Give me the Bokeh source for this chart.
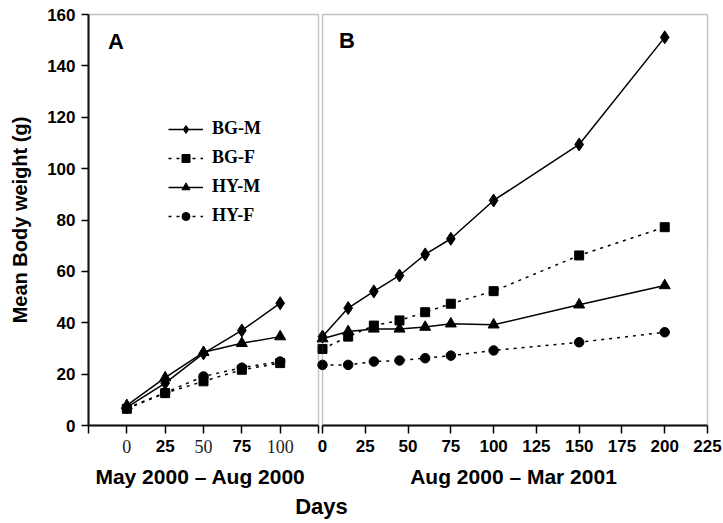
import math
from bokeh.plotting import figure
from bokeh.models import (Range1d, FixedTicker, Label, Legend, LegendItem,
                          LinearAxis, BoxAnnotation)
from bokeh.embed import file_html
from bokeh.resources import INLINE

# ---------------- data ----------------
days_a = [0, 25, 50, 75, 100]
bgm_a = [7.1, 16.5, 28.1, 37.0, 47.6]
bgf_a = [6.5, 12.6, 17.2, 21.7, 24.3]
hym_a = [7.8, 18.6, 28.5, 32.0, 34.6]
hyf_a = [6.8, 12.8, 19.1, 22.5, 24.9]

days_b = [0, 15, 30, 45, 60, 75, 100, 150, 200]
bgm_b = [34.6, 45.7, 52.2, 58.4, 66.6, 72.7, 87.6, 109.4, 151.1]
bgf_b = [29.8, 34.6, 38.9, 40.9, 44.1, 47.4, 52.3, 66.2, 77.2]
hym_b = [33.8, 36.6, 37.6, 37.6, 38.3, 39.6, 39.2, 47.0, 54.5]
hyf_b = [23.6, 23.6, 24.9, 25.3, 26.2, 27.2, 29.2, 32.4, 36.3]

series_names = ["BG-M", "BG-F", "HY-M", "HY-F"]
y_ticks = [0, 20, 40, 60, 80, 100, 120, 140, 160]
a_ticks = [-25, 0, 25, 50, 75, 100, 125]
a_bold_labels = [25, 75]
a_serif_labels = [0, 50, 100]
b_ticks = [0, 25, 50, 75, 100, 125, 150, 175, 200, 225]
xlabel_a = "May 2000 \u2013 Aug 2000"
xlabel_b = "Aug 2000 \u2013 Mar 2001"
ylabel = "Mean Body weight (g)"
xlabel_all = "Days"

# ---------------- layout (pixels) ----------------
W, H = 722, 523
FL, FR, FT, FB = 88, 707, 14, 425          # data-area edges on the canvas
A_END, B_START = 318, 322                  # panel borders
a_lo, a_hi = -25, 125
b_lo, b_hi = 0, 225
y_lo, y_hi = 0, 160
a_scale = (A_END - FL) / (a_hi - a_lo)
b_scale = (FR - B_START) / (b_hi - b_lo)
y_scale = (FB - FT) / (y_hi - y_lo)


def ax_px(px):
    return a_lo + (px - FL) / a_scale


def bx_px(px):
    return b_lo + (px - B_START) / b_scale


def y_px(py):
    return y_lo + (FB - py) / y_scale


a_range = Range1d(ax_px(0), ax_px(W))
b_range = Range1d(bx_px(0), bx_px(W))
y_range = Range1d(y_px(H), y_px(0))

SANS = "Liberation Sans"
SERIF = "Liberation Serif"
styles = {
    "BG-M": dict(marker="diamond", size=13, dash="solid"),
    "BG-F": dict(marker="square", size=9, dash="3 5"),
    "HY-M": dict(marker="triangle", size=11, dash="solid"),
    "HY-F": dict(marker="circle", size=9.5, dash="3 5"),
}

p = figure(width=W, height=H, x_range=a_range, y_range=y_range,
           output_backend="svg", toolbar_location=None,
           x_axis_location=None, y_axis_location=None, min_border=0)
p.extra_x_ranges = {"b": b_range}
p.xgrid.visible = False
p.ygrid.visible = False
p.outline_line_color = None
p.background_fill_color = "white"
p.border_fill_color = "white"

# panel frames
p.add_layout(BoxAnnotation(left=a_lo, right=a_hi, bottom=y_lo, top=y_hi,
                           fill_color=None, line_color="#333333", line_width=1.4))
p.add_layout(BoxAnnotation(left=b_lo, right=b_hi, bottom=y_lo, top=y_hi,
                           x_range_name="b", fill_color=None,
                           line_color="#333333", line_width=1.4))


def style_x(ax):
    ax.axis_line_color = "black"
    ax.axis_line_width = 2
    ax.major_tick_line_color = "black"
    ax.major_tick_line_width = 1.5
    ax.major_tick_out = 8
    ax.major_tick_in = 0
    ax.minor_tick_line_color = None
    ax.major_label_text_font = SANS
    ax.major_label_text_font_style = "bold"
    ax.major_label_text_font_size = "17px"
    ax.major_label_text_color = "black"
    ax.major_label_standoff = 6


# panel A x axis
ax_a = LinearAxis(ticker=FixedTicker(ticks=a_ticks), bounds=(a_lo, a_hi),
                  fixed_location=y_lo)
style_x(ax_a)
ax_a.major_label_overrides = {t: (str(t) if t in a_bold_labels else "") for t in a_ticks}
p.add_layout(ax_a, "below")

# serif tick labels of panel A
ax_a2 = LinearAxis(ticker=FixedTicker(ticks=a_serif_labels), bounds=(a_lo, a_hi),
                   fixed_location=y_lo)
style_x(ax_a2)
ax_a2.axis_line_color = None
ax_a2.major_tick_line_alpha = 0
ax_a2.major_label_text_font = SERIF
ax_a2.major_label_text_font_style = "normal"
ax_a2.major_label_text_font_size = "18px"
ax_a2.major_label_text_color = "#222222"
p.add_layout(ax_a2, "below")

# panel B x axis
ax_b = LinearAxis(x_range_name="b", ticker=FixedTicker(ticks=b_ticks),
                  bounds=(b_lo, b_hi), fixed_location=y_lo)
style_x(ax_b)
p.add_layout(ax_b, "below")

# y axis
ya = LinearAxis(ticker=FixedTicker(ticks=y_ticks), bounds=(y_lo, y_hi),
                fixed_location=a_lo)
ya.axis_line_color = "black"
ya.axis_line_width = 2
ya.major_tick_line_color = "black"
ya.major_tick_line_width = 1.5
ya.major_tick_out = 7
ya.major_tick_in = 0
ya.minor_tick_line_color = None
ya.major_label_text_font = SANS
ya.major_label_text_font_style = "bold"
ya.major_label_text_font_size = "17px"
ya.major_label_text_color = "black"
ya.major_label_standoff = 6
p.add_layout(ya, "left")


def draw(xs, ys_list, range_name="default"):
    rends = {}
    for name, ys in zip(series_names, ys_list):
        st = styles[name]
        ln = p.line(xs, ys, line_color="black", line_width=1.5, line_dash=st["dash"],
                    x_range_name=range_name)
        sc = p.scatter(xs, ys, marker=st["marker"], size=st["size"],
                       fill_color="black", line_color="black", x_range_name=range_name)
        rends[name] = [ln, sc]
    return rends


rends_a = draw(days_a, [bgm_a, bgf_a, hym_a, hyf_a])
draw(days_b, [bgm_b, bgf_b, hym_b, hyf_b], "b")

legend = Legend(items=[LegendItem(label=n, renderers=rends_a[n]) for n in series_names],
                location=(168, H - 226), padding=0, margin=0, spacing=8,
                glyph_width=35, glyph_height=20, label_height=20, label_standoff=9,
                label_text_font=SERIF, label_text_font_style="bold",
                label_text_font_size="18px", label_text_color="black",
                border_line_color=None, background_fill_alpha=0)
p.add_layout(legend)

# texts
def txt(x, y, text, size, rng="default", angle=0.0):
    p.add_layout(Label(x=x, y=y, x_range_name=rng, text=text, text_font=SANS,
                       text_font_style="bold", text_font_size=size, text_color="black",
                       text_align="center", text_baseline="middle", angle=angle))


txt(ax_px(115.5), y_px(41), "A", "22px")
txt(bx_px(346.5), y_px(40), "B", "22px", rng="b")
txt(ax_px(200), y_px(476), xlabel_a, "21px")
txt(bx_px(513), y_px(476), xlabel_b, "21px", rng="b")
txt(ax_px(321), y_px(506), xlabel_all, "22px")
txt(ax_px(19), y_px(219.5), ylabel, "20px", angle=math.pi / 2)

open("out.html", "w").write(file_html(p, INLINE))
